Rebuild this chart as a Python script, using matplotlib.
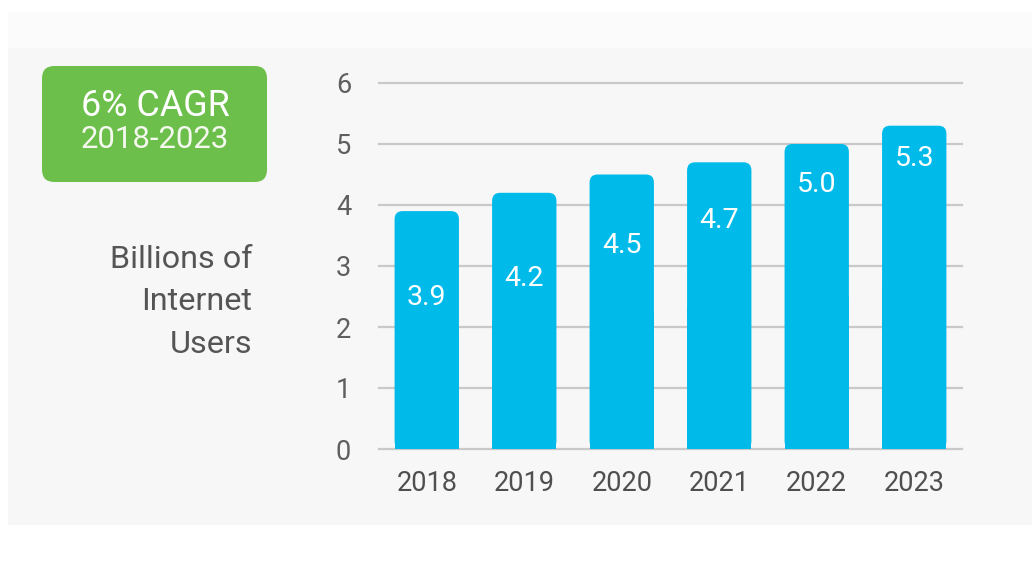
import matplotlib
matplotlib.use("Agg")
import matplotlib.pyplot as plt
from matplotlib.patches import FancyBboxPatch, Rectangle

# Internet users, billions
years = ["2018", "2019", "2020", "2021", "2022", "2023"]
users = [3.9, 4.2, 4.5, 4.7, 5.0, 5.3]
y_ticks = [0, 1, 2, 3, 4, 5, 6]
badge_title = "6% CAGR"
badge_period = "2018-2023"
axis_caption = "Billions of\nInternet\nUsers"

# where each value label sits inside its bar (data units)
label_y = [2.49, 2.80, 3.34, 3.75, 4.33, 4.77]

BAR = "#00bbea"
GREEN = "#6cbf4b"
GRID = "#c9c9c9"
TICK = "#5f5f5f"
PANEL = "#f7f7f7"
FONT = "Roboto"

W, H = 1032, 569
fig = plt.figure(figsize=(W / 100, H / 100), dpi=100, facecolor="white")

def px_box(x0, y0, x1, y1):
    """Convert pixel box (top-left origin) to figure fraction."""
    return (x0 / W, 1 - y1 / H, (x1 - x0) / W, (y1 - y0) / H)

# background panels
bx = px_box(8, 12, W, 48)
fig.patches.append(Rectangle(bx[:2], bx[2], bx[3], transform=fig.transFigure,
                             facecolor="#fbfbfb", edgecolor="none", zorder=-2))
bx = px_box(8, 48, W, 525)
fig.patches.append(Rectangle(bx[:2], bx[2], bx[3], transform=fig.transFigure,
                             facecolor=PANEL, edgecolor="none", zorder=-2))

# CAGR badge
bx = px_box(42, 66, 267, 182)
fig.patches.append(FancyBboxPatch(bx[:2], bx[2], bx[3],
                                  boxstyle="round,pad=0,rounding_size=0.012",
                                  mutation_aspect=W / H,
                                  transform=fig.transFigure,
                                  facecolor=GREEN, edgecolor="none", zorder=-1))
fig.text(155 / W, 1 - 106 / H, badge_title, ha="center", va="center",
         color="white", fontsize=25.8, family=FONT, zorder=2)
fig.text(155 / W, 1 - 140 / H, badge_period, ha="center", va="center",
         color="#f4f8ee", fontsize=22.4, family=FONT, zorder=2)

# caption
fig.text(252 / W, 1 - 302 / H, axis_caption, ha="right", va="center",
         color="#555555", fontsize=23.3, family=FONT, linespacing=1.58)

# bar chart
ax = fig.add_axes(px_box(379, 83, 962, 449))
ax.set_zorder(1)
ax.set_facecolor("none")
ax.set_xlim(-0.49, len(years) - 0.51)
ax.set_ylim(0, 6)
for s in ax.spines.values():
    s.set_visible(False)

for t in y_ticks:
    ax.axhline(t, color=GRID, lw=1.6, zorder=1, clip_on=False)

bar_width = 0.66
bars = ax.bar(range(len(years)), users, width=bar_width, color=BAR, zorder=2)

# rounded tops: swap each rectangle for a rounded box plus a square base
x_px = 583 / 5.98              # pixels per x unit
y_px = 366 / 6                 # pixels per y unit
aspect = x_px / y_px
radius = 8 / x_px
for rect in bars.patches:
    x, w, h = rect.get_x(), rect.get_width(), rect.get_height()
    rect.set_visible(False)
    ax.add_patch(FancyBboxPatch((x, 0), w, h,
                                boxstyle=f"round,pad=0,rounding_size={radius}",
                                mutation_aspect=aspect,
                                facecolor=BAR, edgecolor="none", zorder=2))
    ax.add_patch(Rectangle((x, 0), w, h / 2, facecolor=BAR,
                           edgecolor="none", zorder=2))

for i, (v, ly) in enumerate(zip(users, label_y)):
    ax.text(i, ly, f"{v:.1f}", ha="center", va="center", color="white",
            fontsize=20.5, family=FONT, zorder=3)

ax.set_xticks(range(len(years)))
ax.set_xticklabels(years)
ax.set_yticks(y_ticks)
ax.set_yticklabels([str(t) for t in y_ticks])
ax.tick_params(axis="both", length=0, labelsize=19.5, labelcolor=TICK)
ax.tick_params(axis="x", pad=15, labelcolor="#4f4f4f")
ax.tick_params(axis="y", pad=20)
for lbl in ax.get_xticklabels() + ax.get_yticklabels():
    lbl.set_family(FONT)

fig.savefig("out.png", dpi=100, facecolor="white")
